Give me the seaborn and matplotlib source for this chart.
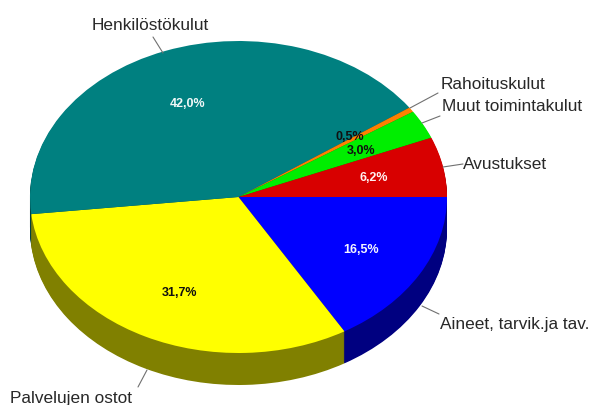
import seaborn as sns
import matplotlib.pyplot as plt

kategoriat = ['Aineet, tarvik.ja tav.', 'Palvelujen ostot', 'Henkilöstökulut',
              'Rahoituskulut', 'Muut toimintakulut', 'Avustukset']
osuudet = [16.5, 31.7, 42.0, 0.5, 3.0, 6.2]
prosentit = ['16,5%', '31,7%', '42,0%', '0,5%', '3,0%', '6,2%']
varit = ['#0000ff', '#ffff00', '#008080', '#ff8000', '#00ee00', '#d80000']
sivuvarit = ['#000080', '#808000', '#004040', '#804000', '#008000', '#800000']

sns.set_theme(style='white')
plt.rcParams['font.family'] = ['Liberation Sans', 'DejaVu Sans']

# piirakan keskipiste ja sateet pikseleina
cx, cy, rx, ry = 238.5, 197, 208.5, 156
syvyys = 32

fig = plt.figure(figsize=(5.92, 4.05), dpi=100)
ax = fig.add_axes([0, 0, 1, 1])

# sivu: sama piirakka monta kertaa alaspain
for d in range(syvyys, 0, -1):
    ax.pie(osuudet, colors=sivuvarit, startangle=0, counterclock=False,
           center=(0, -d / ry), radius=1, wedgeprops={'linewidth': 0}, frame=True)
ax.pie(osuudet, colors=varit, startangle=0, counterclock=False,
       center=(0, 0), radius=1, wedgeprops={'linewidth': 0}, frame=True)

# ellipsi: eri skaala x ja y
ax.set_aspect('auto')
ax.set_xlim(-cx / rx, (592 - cx) / rx)
ax.set_ylim(-(405 - cy) / ry, cy / ry)
ax.axis('off')


def px(x, y):
    return (x - cx) / rx, (cy - y) / ry


prosenttipaikat = [(361, 250.5), (180, 293.5), (188, 104.5), (350, 137.5), (361, 151), (374, 178.5)]
prosenttivarit = ['#f4f4ff', '#101010', '#f0f8f8', '#101010', '#101010', '#fff0f0']
for t, p, c in zip(prosentit, prosenttipaikat, prosenttivarit):
    ax.text(*px(*p), t, color=c, fontsize=9, fontweight='bold', ha='center', va='center')

nimipaikat = [(440, 324.5), (10, 399), (92, 26), (441, 84.5), (442, 106.5), (463, 164.5)]
viivat = [((422, 306), (439, 314)), ((147, 370), (138, 387)), ((153, 37), (163, 53)),
          ((410, 108), (438, 93)), ((422, 123), (440, 116)), ((443, 167), (463, 164))]
for nimi, p, v in zip(kategoriat, nimipaikat, viivat):
    ax.text(*px(*p), nimi, color='#282828', fontsize=12.4, ha='left', va='center')
    ax.plot(*zip(px(*v[0]), px(*v[1])), color='#707070', lw=0.8)

fig.savefig('out.png', dpi=100)
